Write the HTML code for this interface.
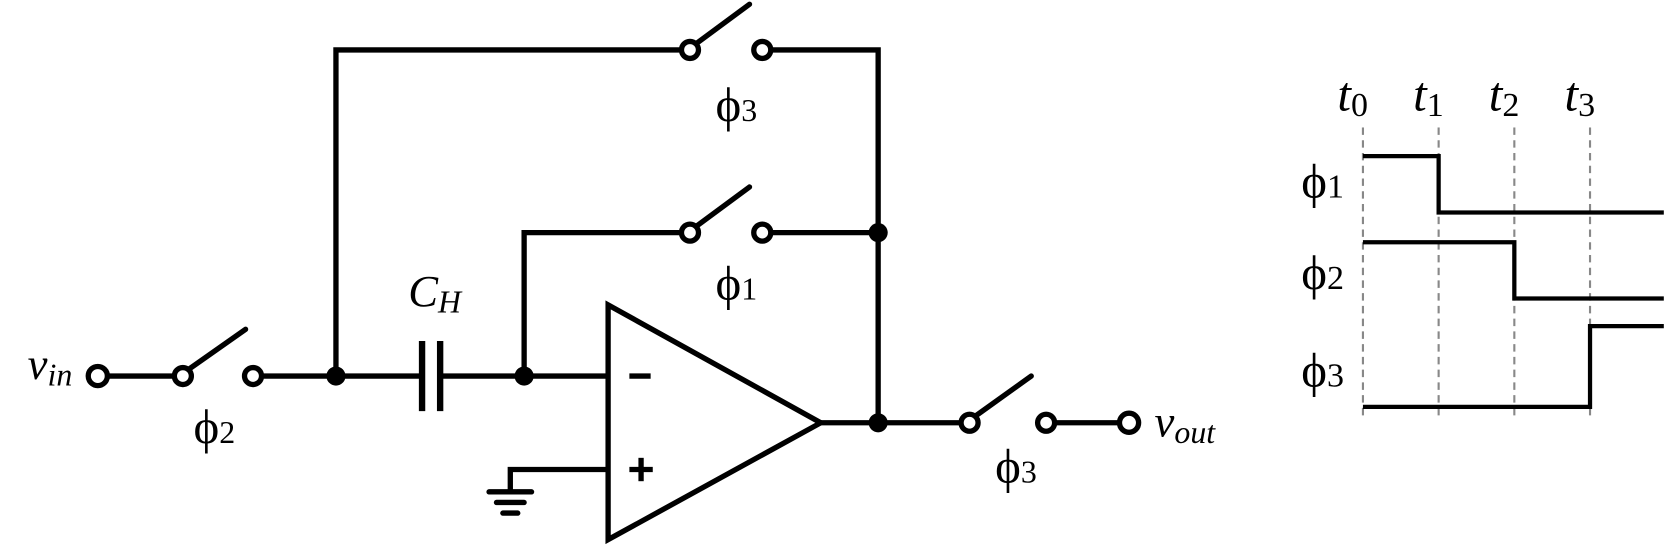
<!DOCTYPE html>
<html><head><meta charset="utf-8"><style>
html,body{margin:0;padding:0;background:#fff;width:1667px;height:546px;overflow:hidden}
svg{display:block}
text{font-family:"Liberation Serif",serif;fill:#000}
.it{font-style:italic}
</style></head><body>
<svg id="sch" width="1667" height="546" viewBox="0 0 1568 514" preserveAspectRatio="none" xmlns="http://www.w3.org/2000/svg">
<g stroke="#000" stroke-width="5" fill="none" stroke-linecap="butt">
  <line x1="102" y1="354" x2="162" y2="354"/>
  <line x1="248" y1="354" x2="397" y2="354"/>
  <line x1="414" y1="354" x2="572" y2="354"/>
  <polyline points="316,354 316,47 639,47"/>
  <polyline points="727,47 826,47 826,398"/>
  <polyline points="493,354 493,219 639,219"/>
  <line x1="727" y1="219" x2="826" y2="219"/>
  <line x1="772" y1="398" x2="902" y2="398"/>
  <line x1="994" y1="398" x2="1052" y2="398"/>
  <polyline points="572,442 480,442 480,463"/>
</g>
<g stroke="#000" stroke-width="5" stroke-linecap="round">
  <line x1="460" y1="463" x2="500" y2="463"/>
  <line x1="467" y1="473" x2="493" y2="473"/>
  <line x1="473" y1="483" x2="487" y2="483"/>
</g>
<g stroke="#000" stroke-width="6">
  <line x1="397" y1="321" x2="397" y2="387"/>
  <line x1="414" y1="321" x2="414" y2="387"/>
</g>
<g>
  <polygon points="572,287 572,508 772,398" fill="none" stroke="#000" stroke-width="5"/>
  <line x1="592" y1="354" x2="612" y2="354" stroke="#000" stroke-width="5"/>
  <line x1="592" y1="442" x2="614" y2="442" stroke="#000" stroke-width="5"/>
  <line x1="603" y1="431" x2="603" y2="453" stroke="#000" stroke-width="5"/>
</g>
<g stroke="#000" stroke-width="5" stroke-linecap="round">
  <line x1="177" y1="348" x2="231" y2="310"/>
  <line x1="655" y1="41" x2="705" y2="4"/>
  <line x1="655" y1="213" x2="705" y2="176"/>
  <line x1="917" y1="392" x2="970" y2="354"/>
</g>
<g fill="#fff" stroke="#000" stroke-width="5">
  <circle cx="92" cy="354" r="9"/>
  <circle cx="172" cy="354" r="8"/>
  <circle cx="238" cy="354" r="8"/>
  <circle cx="649" cy="47" r="8"/>
  <circle cx="717" cy="47" r="8"/>
  <circle cx="649" cy="219" r="8"/>
  <circle cx="717" cy="219" r="8"/>
  <circle cx="912" cy="398" r="8"/>
  <circle cx="984" cy="398" r="8"/>
  <circle cx="1062" cy="398" r="9"/>
</g>
<g fill="#000">
  <circle cx="316" cy="354" r="9"/>
  <circle cx="493" cy="354" r="9"/>
  <circle cx="826" cy="219" r="9"/>
  <circle cx="826" cy="398" r="9"/>
</g>
<g>
  <text x="26" y="357" font-size="42" class="it">v<tspan font-size="30" dy="6">in</tspan></text>
  <text x="1086" y="411" font-size="42" class="it">v<tspan font-size="30" dy="6">out</tspan></text>
  <text x="384" y="288" font-size="42" class="it">C<tspan font-size="30" dy="6">H</tspan></text>
  <text x="182" y="417" font-size="46">ϕ<tspan font-size="30">2</tspan></text>
  <text x="673" y="114" font-size="46">ϕ<tspan font-size="30">3</tspan></text>
  <text x="673" y="282" font-size="46">ϕ<tspan font-size="30">1</tspan></text>
  <text x="936" y="454" font-size="46">ϕ<tspan font-size="30">3</tspan></text>
</g>
<g id="timing"></g>
</svg>
<script>
const phases = ['1','2','3'];
const times = ['0','1','2','3'];
const highY = [147, 228, 307];
const lowY = [200, 281, 360];
const startHigh = [true, true, false];
const transitionIdx = [1, 2, 3];
const ns = 'http://www.w3.org/2000/svg';
const g = document.getElementById('timing');
const tx = i => 1282 + i * 71.2;
const xEnd = 1565;
function mk(tag, attrs){const e=document.createElementNS(ns,tag);for(const k in attrs)e.setAttribute(k,attrs[k]);g.appendChild(e);return e;}
times.forEach((t,i)=>{
  const l = mk('line',{x1:tx(i),x2:tx(i),y1:120,y2:392,stroke:'#888','stroke-width':2,'stroke-dasharray':'7,5'});
  
  
  const tt = mk('text',{x:tx(i)-24,y:104,'font-size':46,'font-style':'italic'});
  
  
  tt.innerHTML = 't<tspan font-size="32" font-style="normal" dy="5">'+t+'</tspan>';
});
phases.forEach((p,i)=>{
  const xs = tx(transitionIdx[i]);
  const y1 = startHigh[i] ? highY[i] : (lowY[i]+23);
  const y2 = startHigh[i] ? lowY[i] : highY[i];
  const pl = mk('polyline',{points:`${tx(0)},${y1} ${xs},${y1} ${xs},${y2} ${xEnd},${y2}`,fill:'none',stroke:'#000','stroke-width':4});
  
  
  const lb = mk('text',{x:1224,y:[186,272,364][i],'font-size':46});
  
  
  lb.innerHTML = 'ϕ<tspan font-size="32">'+p+'</tspan>';
});
</script>
</body></html>
